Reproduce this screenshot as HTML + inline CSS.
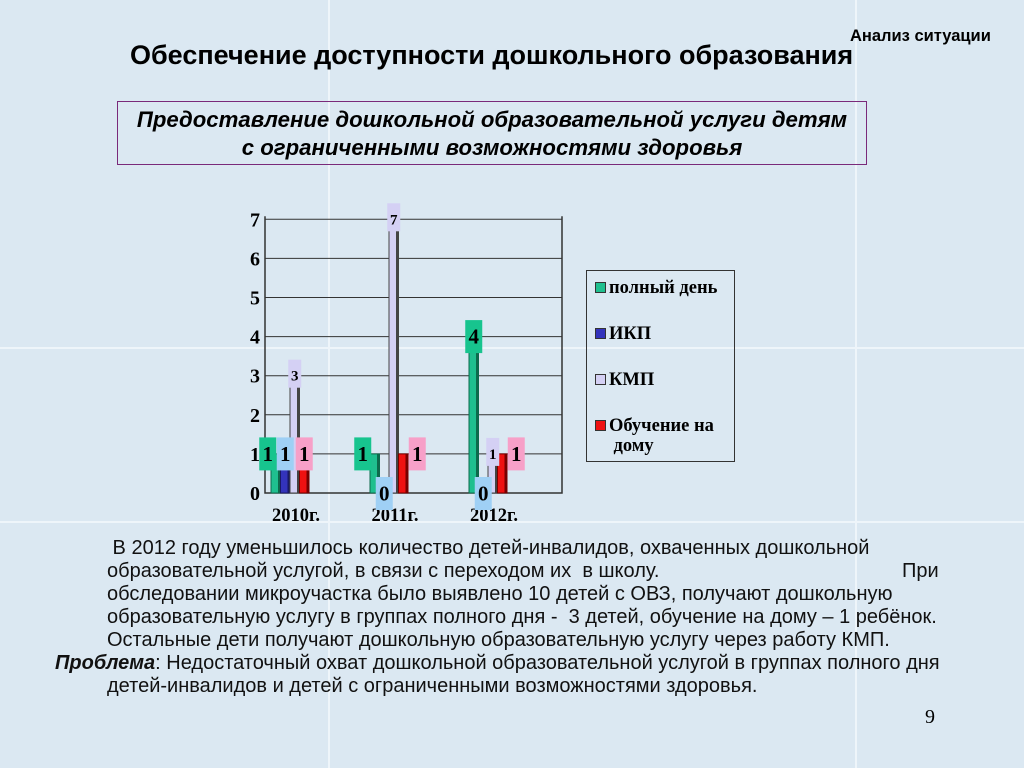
<!DOCTYPE html>
<html><head><meta charset="utf-8"><style>
body{margin:0;width:1024px;height:768px;overflow:hidden;background:#dbe8f2;position:relative;font-family:"Liberation Sans","DejaVu Sans",sans-serif}
.abs{position:absolute;white-space:nowrap}
.vl{position:absolute;top:0;height:768px;width:2px;background:#eef5fa}
.hl{position:absolute;left:0;width:1024px;height:2px;background:#eef5fa}
.tx{position:absolute;left:107px;font-family:"Liberation Sans",sans-serif;font-size:20px;color:#111;white-space:nowrap;letter-spacing:0px}
</style></head><body>
<div class="vl" style="left:328px"></div>
<div class="vl" style="left:855px"></div>
<div class="hl" style="top:347px"></div>
<div class="hl" style="top:521px"></div>

<div class="abs" style="left:850px;top:27px;font-size:16.5px;font-weight:bold">Анализ ситуации</div>
<div class="abs" style="left:130px;top:40px;font-size:27px;font-weight:bold">Обеспечение доступности дошкольного образования</div>
<div class="abs" style="left:117px;top:101px;width:750px;height:64px;border:1px solid #7a2a7a;text-align:center;font-size:22.2px;font-weight:bold;font-style:italic;line-height:28px;padding-top:4px;box-sizing:border-box">Предоставление дошкольной образовательной услуги детям<br>с ограниченными возможностями здоровья</div>

<svg class="abs" style="left:0;top:0" width="1024" height="768" id="chart"></svg>

<div class="abs" style="left:586px;top:270px;width:147px;height:190px;border:1px solid #333;font-family:'Liberation Serif',serif;font-weight:bold;font-size:18.5px">
 <div class="abs" style="left:8px;top:7px"><span style="display:inline-block;width:9px;height:9px;background:#1fbf8f;border:1px solid #333;margin-right:3px"></span>полный день</div>
 <div class="abs" style="left:8px;top:53px"><span style="display:inline-block;width:9px;height:9px;background:#3333bb;border:1px solid #333;margin-right:3px"></span>ИКП</div>
 <div class="abs" style="left:8px;top:99px"><span style="display:inline-block;width:9px;height:9px;background:#d4d0f4;border:1px solid #333;margin-right:3px"></span>КМП</div>
 <div class="abs" style="left:8px;top:145px;line-height:20px"><span style="display:inline-block;width:9px;height:9px;background:#ee1111;border:1px solid #333;margin-right:3px"></span>Обучение на<br>&nbsp;&nbsp;&nbsp;&nbsp;дому</div>
</div>

<div class="tx" style="top:537px">&nbsp;В 2012 году уменьшилось количество детей-инвалидов, охваченных дошкольной</div>
<div class="tx" style="top:560px">образовательной услугой, в связи с переходом их &nbsp;в школу.</div>
<div class="tx" style="top:560px;left:902px">При</div>
<div class="tx" style="top:583px">обследовании микроучастка было выявлено 10 детей с ОВЗ, получают дошкольную</div>
<div class="tx" style="top:606px">образовательную услугу в группах полного дня - &nbsp;3 детей, обучение на дому – 1 ребёнок.</div>
<div class="tx" style="top:629px">Остальные дети получают дошкольную образовательную услугу через работу КМП.</div>
<div class="tx" style="top:652px;left:55px"><b><i>Проблема</i></b>: Недостаточный охват дошкольной образовательной услугой в группах полного дня</div>
<div class="tx" style="top:675px">детей-инвалидов и детей с ограниченными возможностями здоровья.</div>
<div class="abs" style="left:925px;top:706px;font-family:'Liberation Serif',serif;font-size:20px">9</div>

<script>
const categories=["2010г.","2011г.","2012г."];
const fullDay=[1,1,4];
const ikp=[1,0,0];
const kmp=[3,7,1];
const home=[1,1,1];
const yTicks=[0,1,2,3,4,5,6,7];
const NS="http://www.w3.org/2000/svg";
const svg=document.getElementById('chart');
const x0=265,x1=562,y0=493,unit=39.1,catW=99,barW=9.5,off=6;
const y=v=>y0-v*unit;
function mk(t,a){const e=document.createElementNS(NS,t);for(const k in a)e.setAttribute(k,a[k]);svg.appendChild(e);return e;}
yTicks.forEach(t=>{
 if(t>0){const l=mk('line',{x1:x0,x2:x1,y1:y(t),y2:y(t),stroke:'#333','stroke-width':1});
 
 }
 const tx=mk('text',{x:x0-5,y:y(t)+7,'text-anchor':'end','font-family':'Liberation Serif, serif','font-weight':'bold','font-size':20});
 tx.textContent=t;
 
 
});
const ax=mk('path',{d:`M${x0},${y(7)-3}V${y0}H${x1}V${y(7)-3}`,stroke:'#333',fill:'none','stroke-width':1.5});


const series=[[fullDay,'#1fbf8f','#0d6a4c','#17c48e'],[ikp,'#3333bb','#1a1a66','#9fd0f5'],[kmp,'#d4d0f4','#444','#d4d0f4'],[home,'#ee1111','#770000','#f7a0c8']];
const labels=[];
categories.forEach((c,i)=>{
 const tx=mk('text',{x:x0+i*catW+31,y:521,'text-anchor':'middle','font-family':'Liberation Serif, serif','font-weight':'bold','font-size':18.5});
 tx.textContent=c;
 
 
 series.forEach((s,j)=>{
  const v=s[0][i];const bx=x0+i*catW+off+j*barW;
  if(v>0){
   const r=mk('rect',{x:bx,y:y(v),width:barW,height:y0-y(v),fill:s[1],stroke:s[2],'stroke-width':1});
   
   
   const sd=mk('rect',{x:bx+barW-2.5,y:y(v),width:2.5,height:y0-y(v),fill:s[2]});
   
   
  }
  labels.push([bx+barW/2,v,s[3],j]);
 });
});
labels.forEach(([cx,v,col,j])=>{
 const big=!(j==2);
 const w=big?17:13,h=big?33:28;
 let ly=y(v)-(j==2?h-12:h/2);
 if(v==0)ly=y0-16;
 if(j==0&&v==1&&cx<300)cx-=8;
 if(j==3)cx+=(cx>350?14:0);
 if(j==0&&v==1&&cx>300)cx-=12;
 const r=mk('rect',{x:cx-w/2,y:ly,width:w,height:h,fill:col});
 
 
 const t=mk('text',{x:cx,y:ly+h/2+7,'text-anchor':'middle','font-family':'Liberation Serif, serif','font-weight':'bold','font-size':big?21:15});
 t.textContent=v;
 
 
});
</script>
</body></html>
